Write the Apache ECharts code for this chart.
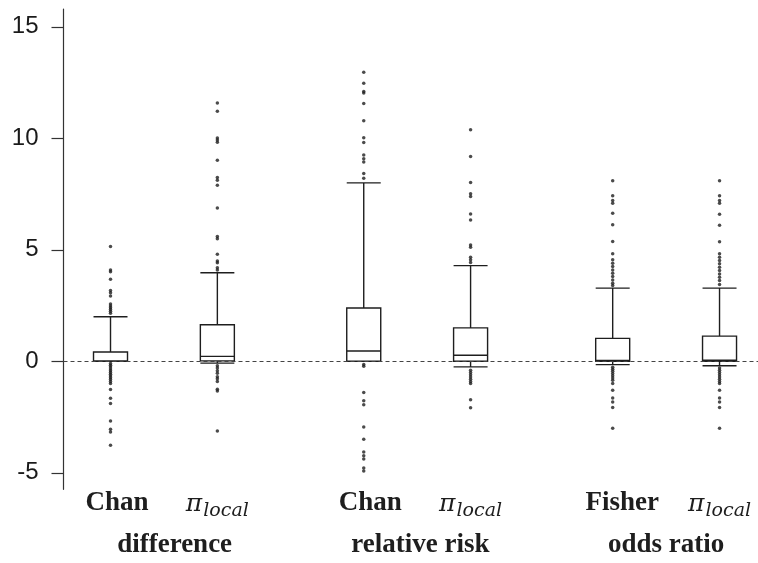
<!DOCTYPE html>
<html>
<head>
<meta charset="utf-8">
<script src="https://cdn.jsdelivr.net/npm/echarts@6/dist/echarts.min.js"></script>
<style>
  html, body { margin: 0; padding: 0; background: #ffffff; }
  #chart { width: 758px; height: 563px; }
</style>
</head>
<body>
<div id="chart"></div>
<script>
// Method under each box and the measure each pair of boxes belongs to
const methods = ['Chan', 'π_local', 'Chan', 'π_local', 'Fisher', 'π_local'];
const measures = ['difference', 'relative risk', 'odds ratio'];

// Five-number summaries: [lower whisker, Q1, median, Q3, upper whisker]
const summaryChanDiff   = [0,     0,    0.02, 0.42, 2.0];
const summaryLocalDiff  = [-0.08, 0.02, 0.22, 1.64, 3.97];
const summaryChanRR     = [0,     0,    0.46, 2.39, 8.0];
const summaryLocalRR    = [-0.25, 0,    0.27, 1.5,  4.29];
const summaryFisherOR   = [-0.15, 0,    0.04, 1.03, 3.28];
const summaryLocalOR    = [-0.2,  0,    0.05, 1.13, 3.28];

// Points beyond the whiskers
const outChanDiff = [5.15, 4.1, 4.02, 3.68, 3.17, 3.08, 2.93, 2.57, 2.48, 2.4, 2.32, 2.24, 2.16,
  -0.1, -0.18, -0.26, -0.34, -0.42, -0.5, -0.58, -0.66, -0.74, -0.82, -0.9, -1.0,
  -1.26, -1.66, -1.89, -2.68, -3.05, -3.17, -3.76];
const outLocalDiff = [11.58, 11.22, 10.02, 9.92, 9.82, 9.02, 8.24, 8.12, 7.9, 6.88, 5.6, 5.5,
  4.8, 4.5, 4.42, 4.2, 4.1,
  -0.2, -0.3, -0.42, -0.53, -0.69, -0.78, -0.9, -1.25, -1.33, -3.12];
const outChanRR = [12.96, 12.47, 12.1, 12.03, 11.56, 10.79, 10.03, 9.81, 9.25, 9.08, 8.94, 8.42, 8.21,
  -0.14, -0.22, -1.4, -1.77, -1.95, -2.95, -3.5, -4.07, -4.23, -4.38, -4.78, -4.92];
const outLocalRR = [10.38, 9.18, 8.02, 7.51, 7.39, 6.61, 6.34, 5.22, 5.12, 4.67, 4.55, 4.43,
  -0.4, -0.5, -0.6, -0.7, -0.8, -0.9, -1.0, -1.72, -2.08];
const outFisherOR = [8.1, 7.42, 7.21, 7.09, 6.64, 6.12, 5.37, 4.82, 4.55, 4.4, 4.25, 4.1, 3.95, 3.8, 3.65, 3.5, 3.4,
  -0.27, -0.36, -0.45, -0.55, -0.65, -0.75, -0.85, -1.0, -1.3, -1.64, -1.82, -2.07, -3.0];
const outLocalOR = [8.1, 7.42, 7.21, 7.09, 6.6, 6.1, 5.36, 4.82, 4.67, 4.52, 4.37, 4.22, 4.07, 3.92, 3.77, 3.62, 3.45,
  -0.3, -0.4, -0.5, -0.6, -0.7, -0.8, -0.9, -1.0, -1.3, -1.64, -1.83, -2.07, -3.0];

const yTicks = [-5, 0, 5, 10, 15];

// Layout: x positions of the boxes and of the text beneath them
const slots = [1, 2, 3.37, 4.37, 5.7, 6.7];
const methodLabelAt = [1.06, 2, 3.43, 4.37, 5.79, 6.7];
const measureLabelAt = [1.6, 3.9, 6.2];

const summaries = [summaryChanDiff, summaryLocalDiff, summaryChanRR, summaryLocalRR, summaryFisherOR, summaryLocalOR];
const outliers = [outChanDiff, outLocalDiff, outChanRR, outLocalRR, outFisherOR, outLocalOR];

const boxData = summaries.map((s, i) => [slots[i]].concat(s));
const outlierData = [];
outliers.forEach((arr, i) => arr.forEach(v => outlierData.push([slots[i], v])));

const nearestIndex = (list, v) => {
  let best = 0;
  list.forEach((p, i) => { if (Math.abs(p - v) < Math.abs(list[best] - v)) best = i; });
  return best;
};

const ink = '#1e1e1e';
const xMin = 0.56, xMax = 7.06;

const chart = echarts.init(document.getElementById('chart'), null, { renderer: 'canvas' });
chart.setOption({
  animation: false,
  backgroundColor: '#ffffff',
  grid: { left: 63.5, right: 0, top: 9, bottom: 73.7, containLabel: false, outerBoundsMode: 'none' },
  xAxis: [
    {
      type: 'value', min: xMin, max: xMax, position: 'bottom',
      axisLine: { show: false }, axisTick: { show: false }, splitLine: { show: false },
      axisLabel: {
        customValues: methodLabelAt,
        margin: 0,
        formatter: (v) => {
          const name = methods[nearestIndex(methodLabelAt, v)];
          if (name === 'π_local') return '{pi|π}{sub|local}';
          return '{b|' + name + '}';
        },
        rich: {
          b: { fontFamily: 'Liberation Serif', fontWeight: 'bold', fontSize: 27, color: ink },
          pi: { fontFamily: 'DejaVu Serif', fontStyle: 'italic', fontSize: 25, color: ink },
          sub: { fontFamily: 'DejaVu Serif', fontStyle: 'italic', fontSize: 19, color: ink, padding: [12, 0, 0, 1] }
        }
      }
    },
    {
      type: 'value', min: xMin, max: xMax, position: 'bottom', offset: 0,
      axisLine: { show: false }, axisTick: { show: false }, splitLine: { show: false },
      axisLabel: {
        customValues: measureLabelAt,
        margin: 42,
        formatter: (v) => measures[nearestIndex(measureLabelAt, v)],
        fontFamily: 'Liberation Serif', fontWeight: 'bold', fontSize: 27, color: ink
      }
    }
  ],
  yAxis: {
    type: 'value', min: -5.74, max: 15.8,
    axisLine: { show: true, lineStyle: { color: '#333', width: 1.2 } },
    axisTick: { show: true, length: 12, customValues: yTicks, lineStyle: { color: '#333', width: 1.2 } },
    axisLabel: { customValues: yTicks, margin: 25, fontFamily: 'Liberation Sans', fontSize: 24, color: '#1a1a1a' },
    splitLine: { show: false }
  },
  series: [
    {
      type: 'boxplot',
      xAxisIndex: 0,
      data: boxData,
      boxWidth: [34, 34],
      itemStyle: { color: '#ffffff', borderColor: ink, borderWidth: 1.4 },
      markLine: {
        silent: true,
        symbol: ['none', 'none'],
        label: { show: false },
        lineStyle: { type: [4, 3], color: '#444', width: 1 },
        data: [{ yAxis: 0 }]
      }
    },
    {
      type: 'scatter',
      xAxisIndex: 0,
      data: outlierData,
      symbol: 'circle',
      symbolSize: 3.5,
      itemStyle: { color: ink }
    }
  ]
});
</script>
</body>
</html>
